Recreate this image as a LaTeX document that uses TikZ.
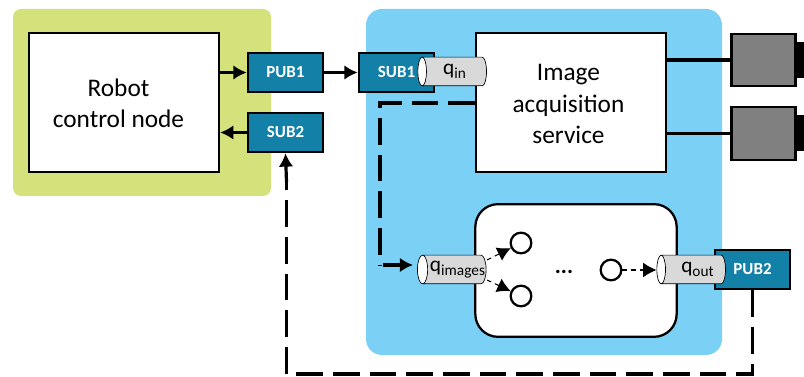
\documentclass[tikz,border=0pt]{standalone}
\usepackage{fontspec}
\setmainfont{Carlito}
\usetikzlibrary{shapes.geometric, arrows.meta}
\definecolor{robotgreen}{HTML}{D5E17B}
\definecolor{serviceblue}{HTML}{7BD0F6}
\definecolor{portblue}{HTML}{1380A8}
\definecolor{queuegray}{HTML}{D9D9D9}
\definecolor{cameragray}{HTML}{808080}
\newcommand{\queuename}[2]{\makebox[0pt][c]{\hspace*{#1}\raisebox{-1pt}{q\raisebox{-3pt}{\fontsize{11.5}{12}\selectfont #2}}}}
\tikzset{
    bigbox/.style={draw, fill=white, line width=1.7pt, minimum width=142.5pt, minimum height=104.5pt},
    boxlabel/.style={align=center, font=\fontsize{19}{23.5}\selectfont},
    port/.style={draw, fill=portblue, text=white, line width=1.7pt, minimum width=56.5pt, minimum height=29.5pt, font=\fontsize{12.7}{14}\selectfont\bfseries},
    queue/.style={cylinder, shape border rotate=180, draw, line width=.5pt, cylinder uses custom fill, cylinder body fill=queuegray, cylinder end fill=white, aspect=.6, minimum height=51.5pt, minimum width=21.5pt, inner sep=0pt, font=\fontsize{16}{16}\selectfont},
    worker/.style={circle, draw, fill=white, line width=1.7pt, minimum size=15.5pt, inner sep=0pt},
    camera/.style={draw, fill=cameragray, line width=1.7pt, minimum width=48pt, minimum height=39.5pt},
    lens/.style={fill=black, minimum width=6pt, minimum height=27pt, inner sep=0pt},
    solidline/.style={line width=2.4pt},
    longdash/.style={line width=2.4pt, dash pattern=on 20pt off 7.5pt},
    shortdash/.style={line width=.8pt, dash pattern=on 3.5pt off 3pt},
}
\begin{document}
\begin{tikzpicture}[>={Latex[length=10pt,width=11pt]}, x=.75pt, y=-.75pt]
\useasboundingbox (0,0) rectangle (804,377);
% containers
\fill[robotgreen, rounded corners=6pt] (13,9) rectangle (271,196);
\fill[serviceblue, rounded corners=12pt] (366,9) rectangle (722,355);
\node[bigbox] (robot) at (124,102.5) {};
\node[boxlabel] (robotlabel) at (118.5,103) {Robot\\control node};
\node[bigbox] (image) at (571,102.5) {};
\node[boxlabel] (imagelabel) at (568.5,104) {Image\\acquisition\\service};
\node[draw, fill=white, line width=1.7pt, rounded corners=17pt, minimum width=151pt, minimum height=99.5pt] (pool) at (576,270.5) {};

% cameras
\foreach \name/\y in {cam1/60,cam2/133.5}
{
    \node[lens] at (800,\y) {};
    \node[camera] (\name) at (763.5,\y) {};
    \draw[solidline] (image.east |- \name) -- (\name);
}

% pub and sub
\foreach \name/\label/\x/\y in {pub1/PUB1/285.5/72.5,sub2/SUB2/285.5/132.5,sub1/SUB1/396.5/72.5,pub2/PUB2/752.5/269.5}
{
    \node[port] (\name) at (\x,\y) {\label};
}

% queues
\node[queue] (qin) at (454.5,71.5) {\queuename{0pt}{in}};
\node[queue] (qimages) at (454.5,269.5) {\queuename{4.5pt}{images}};
\node[queue] (qout) at (693.5,269.5) {\queuename{6pt}{out}};

% workers
\node[worker] (w1) at (521,243) {};
\node[worker] (w2) at (521,296) {};
\node[worker] (w3) at (611,270) {};
\node[font=\fontsize{17}{18}\selectfont\bfseries] (dots) at (564,272) {...};

\draw[solidline, ->] (robot.east |- pub1) -- (pub1);
\draw[solidline, ->] (sub2) -- (robot.east |- sub2);
\draw[solidline, ->] (pub1) -- (sub1);

\coordinate (turn) at (380,103);
\coordinate (qturn) at (383,265);
\coordinate (subturn) at (286.5,374);
\coordinate (subend) at (286.5,182);
\draw[longdash] (image.west |- turn) -- (turn) -- (turn |- qturn);
\draw[solidline, ->, shorten >=3pt] (qturn) -- (qimages.west |- qturn);
\draw[longdash] (pub2.south) -- (pub2.south |- subturn) -- (subturn) -- (subend);
\draw[solidline, ->] (subend) -- (sub2.south);

\draw[shortdash, ->] (487,260) -- (w1);
\draw[shortdash, ->] (487,280) -- (w2);
\draw[shortdash, ->] (w3) -- (qout.west |- w3);
\end{tikzpicture}
\end{document}
